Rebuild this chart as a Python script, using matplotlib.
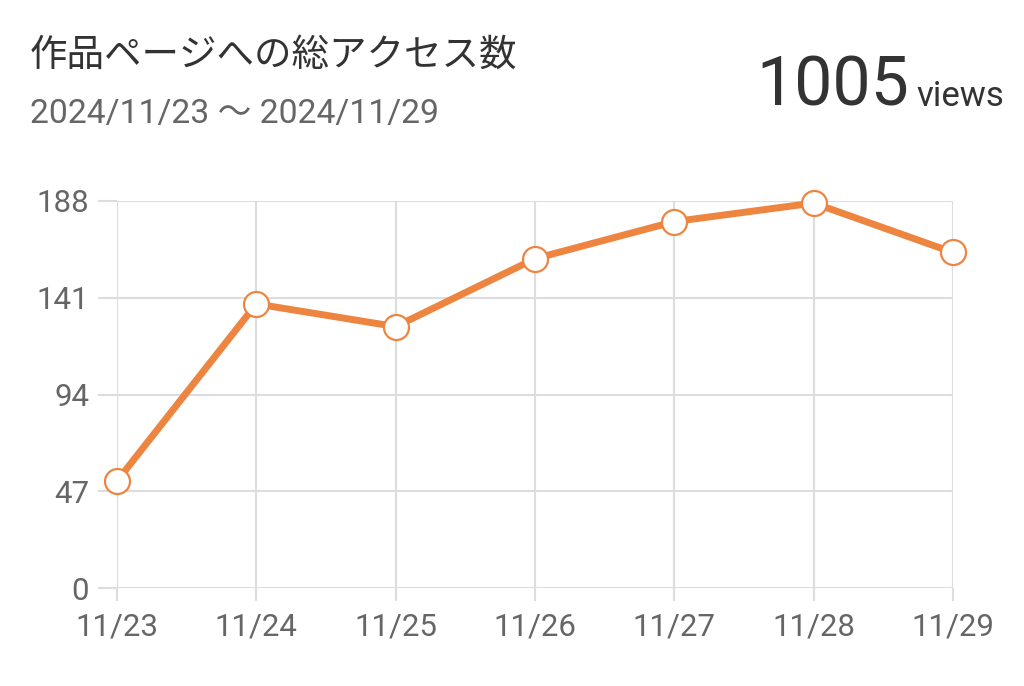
import matplotlib
matplotlib.use('Agg')
from matplotlib import pyplot as plt

dates = ['11/23', '11/24', '11/25', '11/26', '11/27', '11/28', '11/29']
views = [52, 138, 127, 160, 178, 187, 163]
y_ticks = [0, 47, 94, 141, 188]

title = '作品ページへの総アクセス数'
period = '2024/11/23 ～ 2024/11/29'
total = str(sum(views))

fonts = ['Roboto', 'Noto Sans CJK JP', 'DejaVu Sans']
plt.rcParams['font.family'] = fonts

orange = '#ED8541'
grid = '#DDDDDD'

fig = plt.figure(figsize=(10.24, 6.86), dpi=100)
ax = fig.add_axes([117 / 1024, 1 - 588 / 686, (953 - 117) / 1024, (588 - 201) / 686])

x = list(range(len(dates)))
ax.plot(x, views, color=orange, linewidth=5, marker='o', markersize=18,
        markerfacecolor='white', markeredgecolor=orange, markeredgewidth=1.6,
        zorder=3, clip_on=False)

ax.set_xlim(0, len(dates) - 1)
ax.set_ylim(0, 188)
ax.set_xticks(x)
ax.set_xticklabels(dates)
ax.set_yticks(y_ticks)
ax.grid(True, color=grid, linewidth=1.5)
for s in ax.spines.values():
    s.set_visible(False)
ax.tick_params(axis='y', length=14, width=1.5, color=grid, pad=6, labelsize=22.5, labelcolor='#666666')
ax.tick_params(axis='x', length=9, width=1.5, color=grid, pad=9, labelsize=22.5, labelcolor='#666666')

fig.text(30 / 1024, 1 - 55 / 686, title, fontsize=27, color='#333333', va='center', ha='left',
         family=['Noto Sans CJK JP', 'DejaVu Sans'])
fig.text(30 / 1024, 1 - 114 / 686, period, fontsize=24.3, color='#666666', va='center', ha='left',
         family=['Roboto', 'Noto Sans CJK JP', 'DejaVu Sans'])
fig.text(909 / 1024, 1 - 106 / 686, total, fontsize=49, color='#333333', va='baseline', ha='right')
fig.text(916 / 1024, 1 - 106 / 686, 'views', fontsize=25, color='#333333', va='baseline', ha='left')

fig.savefig('out.png', dpi=100, facecolor='white')
